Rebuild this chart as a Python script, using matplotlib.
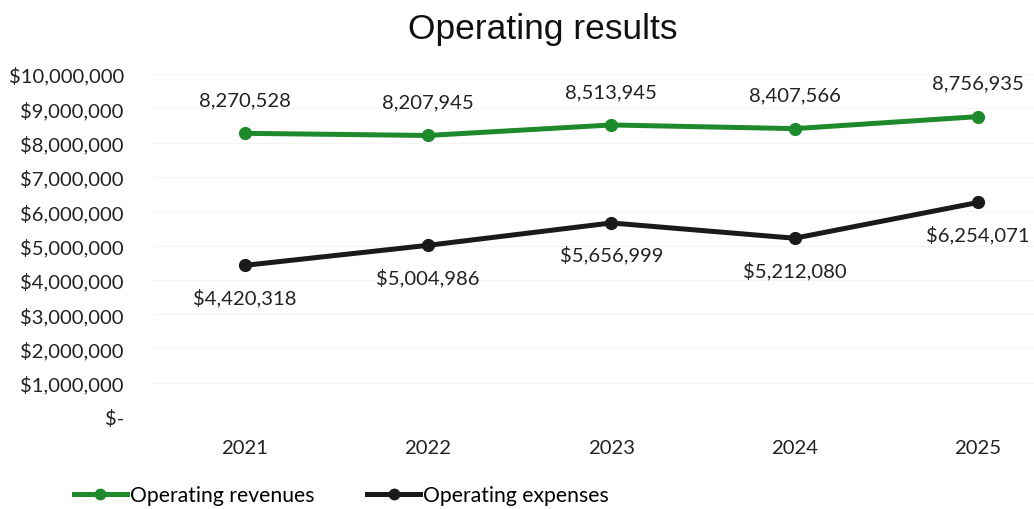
import matplotlib
matplotlib.use("Agg")
import matplotlib.pyplot as plt
from matplotlib.lines import Line2D

years = ["2021", "2022", "2023", "2024", "2025"]
revenues = [8270528, 8207945, 8513945, 8407566, 8756935]
expenses = [4420318, 5004986, 5656999, 5212080, 6254071]
y_ticks = [0, 1e6, 2e6, 3e6, 4e6, 5e6, 6e6, 7e6, 8e6, 9e6, 10e6]

green = "#1e8a2c"
black = "#1a1a1a"
font = ["Lato", "DejaVu Sans"]
fs = 14.6

fig = plt.figure(figsize=(10.34, 5.10), dpi=100)
ax = fig.add_axes([153 / 1034, 1 - 418 / 510, 1 - 153 / 1034, (418 - 75) / 510])

x = list(range(len(years)))
ax.plot(x, revenues, color=green, lw=3.6, marker="o", ms=8.5, label="Operating revenues")
ax.plot(x, expenses, color=black, lw=3.6, marker="o", ms=8.5, label="Operating expenses")

for i, v in enumerate(revenues):
    ax.annotate(f"{v:,}", (i, v), xytext=(0, 18), textcoords="offset points",
                ha="center", va="bottom", fontsize=fs, family=font, color="#222222")
for i, v in enumerate(expenses):
    ax.annotate(f"${v:,}", (i, v), xytext=(0, -16), textcoords="offset points",
                ha="center", va="top", fontsize=fs, family=font, color="#222222")

ax.set_xlim(-0.5, 4 + 56 / 183)
ax.set_ylim(0, 10e6)
ax.set_xticks(x)
ax.set_xticklabels(years, family=font, fontsize=fs, color="#222222")
ax.set_yticks(y_ticks)
ax.set_yticklabels(["$-" if v == 0 else f"${v:,.0f}" for v in y_ticks],
                   family=font, fontsize=fs, color="#222222")
ax.tick_params(axis="both", length=0)
ax.tick_params(axis="y", pad=21)
ax.tick_params(axis="x", pad=16)
ax.grid(axis="y", color="#f4f4f4", lw=0.8)
ax.set_axisbelow(True)
for s in ax.spines.values():
    s.set_visible(False)

fig.text(543 / 1034, 1 - 29 / 510, "Operating results", ha="center", va="center",
         fontsize=25.5, family="Liberation Sans", color="#111111")

handles = [Line2D([], [], color=green, lw=3.6, marker="o", ms=7.5),
           Line2D([], [], color=black, lw=3.6, marker="o", ms=7.5)]
fig.legend(handles, ["Operating revenues", "Operating expenses"], loc="center left",
           bbox_to_anchor=(55 / 1034, 1 - 496 / 510), ncol=2, frameon=False,
           prop={"family": font, "size": 15.2}, handlelength=2.5, handletextpad=0.15,
           columnspacing=2.5)

fig.savefig("out.png", dpi=100)
